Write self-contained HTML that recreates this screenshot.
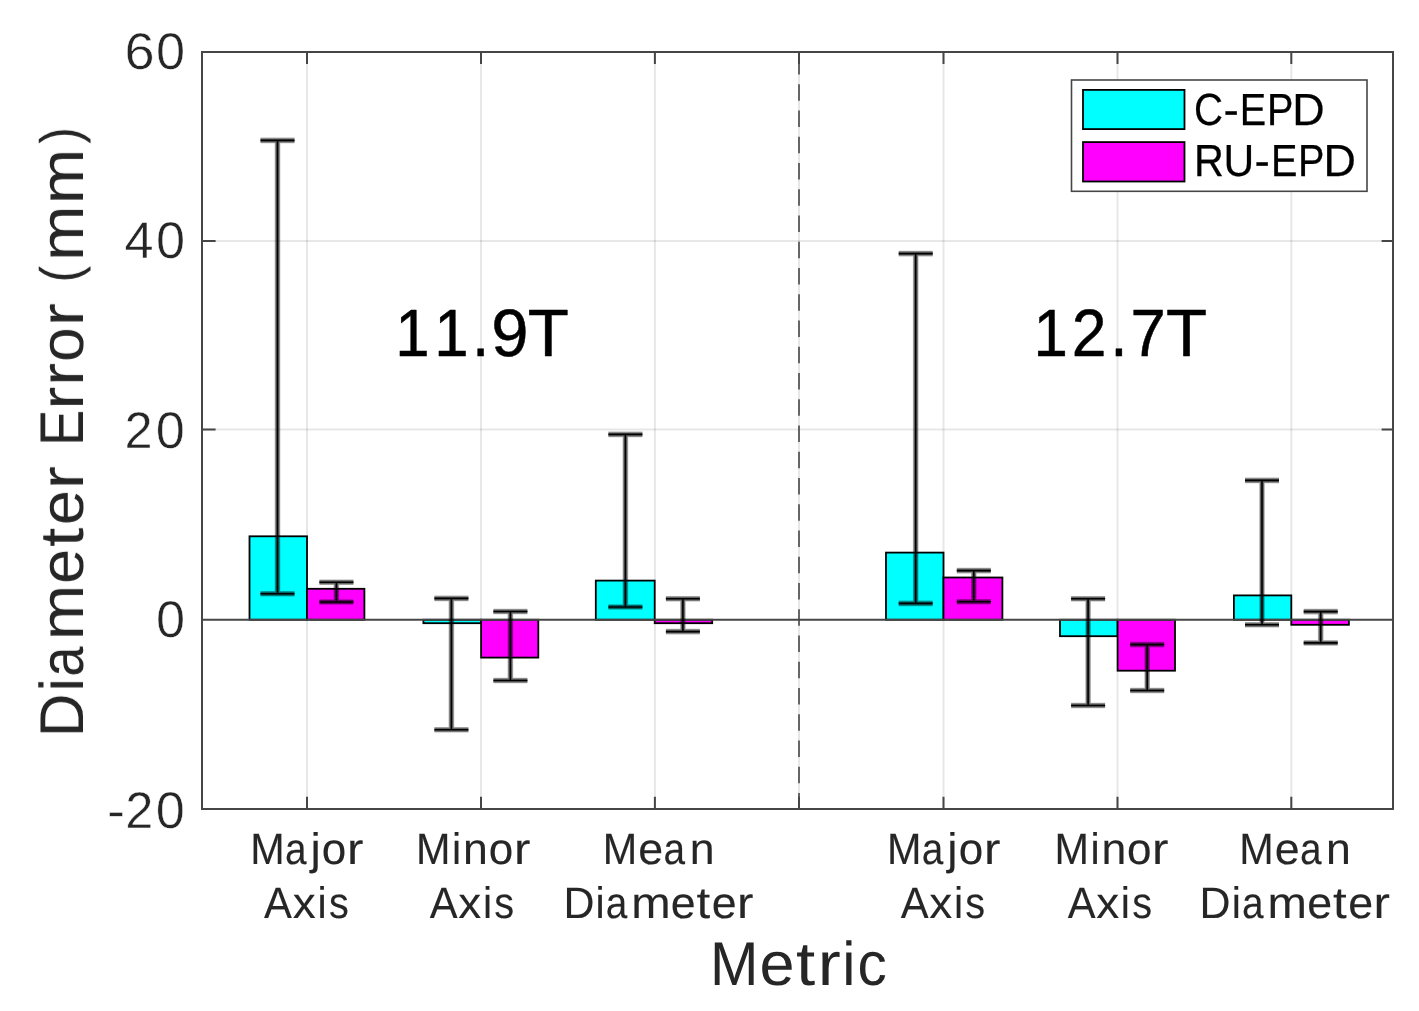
<!DOCTYPE html>
<html lang="en">
<head>
<meta charset="utf-8">
<title>Diameter Error by Metric</title>
<style>
html,body{margin:0;padding:0;background:#fff;}
body{width:1419px;height:1011px;overflow:hidden;}
svg{display:block;}
svg text{font-family:"Liberation Sans",sans-serif;white-space:pre;stroke-linejoin:round;text-rendering:geometricPrecision;}
</style>
</head>
<body>
<svg width="1419" height="1011" viewBox="0 0 1419 1011">
<defs><filter id="gray" x="0" y="0" width="1419" height="1011" filterUnits="userSpaceOnUse" color-interpolation-filters="sRGB"><feOffset dx="0" dy="0"/></filter></defs>
<g>
<rect x="0" y="0" width="1419" height="1011" fill="#fff"/>
<g stroke="#262626" stroke-opacity="0.11" stroke-width="2" fill="none">
<line x1="307.0" y1="52.0" x2="307.0" y2="809.0"/>
<line x1="481.0" y1="52.0" x2="481.0" y2="809.0"/>
<line x1="654.9" y1="52.0" x2="654.9" y2="809.0"/>
<line x1="799.0" y1="52.0" x2="799.0" y2="809.0"/>
<line x1="943.5" y1="52.0" x2="943.5" y2="809.0"/>
<line x1="1117.5" y1="52.0" x2="1117.5" y2="809.0"/>
<line x1="1291.3" y1="52.0" x2="1291.3" y2="809.0"/>
<line x1="202.0" y1="241.0" x2="1393.0" y2="241.0"/>
<line x1="202.0" y1="429.6" x2="1393.0" y2="429.6"/>
</g>
<g stroke="#000" stroke-width="1.8" stroke-linejoin="miter">
<rect x="249.5" y="536.30" width="57.50" height="83.45" fill="#00ffff"/>
<rect x="307.0" y="588.80" width="57.40" height="30.95" fill="#ff00ff"/>
<rect x="423.4" y="619.75" width="57.70" height="3.45" fill="#00ffff"/>
<rect x="481.1" y="619.75" width="57.20" height="37.85" fill="#ff00ff"/>
<rect x="595.8" y="580.60" width="58.90" height="39.15" fill="#00ffff"/>
<rect x="654.7" y="619.75" width="57.50" height="3.45" fill="#ff00ff"/>
<rect x="886.0" y="552.60" width="57.50" height="67.15" fill="#00ffff"/>
<rect x="943.5" y="577.50" width="58.90" height="42.25" fill="#ff00ff"/>
<rect x="1060.0" y="619.75" width="57.60" height="16.45" fill="#00ffff"/>
<rect x="1117.6" y="619.75" width="57.40" height="50.95" fill="#ff00ff"/>
<rect x="1233.9" y="595.40" width="57.40" height="24.35" fill="#00ffff"/>
<rect x="1291.3" y="619.75" width="57.60" height="5.05" fill="#ff00ff"/>
</g>
<line x1="202.0" y1="619.75" x2="1393.0" y2="619.75" stroke="#464646" stroke-width="2.1"/>
</g>
<g>
<g stroke="#000" stroke-width="5.6" stroke-opacity="0.3" fill="none">
<path d="M277.5 140.4V593.8M260.5 140.4H294.5M260.5 593.8H294.5"/>
<path d="M336.4 582.3V602.0M319.4 582.3H353.4M319.4 602.0H353.4"/>
<path d="M451.4 598.4V729.7M434.4 598.4H468.4M434.4 729.7H468.4"/>
<path d="M510.4 611.5V680.5M493.4 611.5H527.4M493.4 680.5H527.4"/>
<path d="M625.4 434.4V606.95M608.4 434.4H642.4M608.4 606.95H642.4"/>
<path d="M682.9 598.7V631.6M665.9 598.7H699.9M665.9 631.6H699.9"/>
<path d="M915.7 253.6V603.4M898.7 253.6H932.7M898.7 603.4H932.7"/>
<path d="M973.8 570.6V601.8M956.8 570.6H990.8M956.8 601.8H990.8"/>
<path d="M1088.1 598.7V705.5M1071.1 598.7H1105.1M1071.1 705.5H1105.1"/>
<path d="M1147.2 644.6V690.5M1130.2 644.6H1164.2M1130.2 690.5H1164.2"/>
<path d="M1262.0 480.4V624.8M1245.0 480.4H1279.0M1245.0 624.8H1279.0"/>
<path d="M1320.7 611.6V642.9M1303.7 611.6H1337.7M1303.7 642.9H1337.7"/>
</g>
<g stroke="#000" stroke-width="4" stroke-opacity="0.43" fill="none">
<path d="M277.5 140.4V593.8M260.5 140.4H294.5M260.5 593.8H294.5"/>
<path d="M336.4 582.3V602.0M319.4 582.3H353.4M319.4 602.0H353.4"/>
<path d="M451.4 598.4V729.7M434.4 598.4H468.4M434.4 729.7H468.4"/>
<path d="M510.4 611.5V680.5M493.4 611.5H527.4M493.4 680.5H527.4"/>
<path d="M625.4 434.4V606.95M608.4 434.4H642.4M608.4 606.95H642.4"/>
<path d="M682.9 598.7V631.6M665.9 598.7H699.9M665.9 631.6H699.9"/>
<path d="M915.7 253.6V603.4M898.7 253.6H932.7M898.7 603.4H932.7"/>
<path d="M973.8 570.6V601.8M956.8 570.6H990.8M956.8 601.8H990.8"/>
<path d="M1088.1 598.7V705.5M1071.1 598.7H1105.1M1071.1 705.5H1105.1"/>
<path d="M1147.2 644.6V690.5M1130.2 644.6H1164.2M1130.2 690.5H1164.2"/>
<path d="M1262.0 480.4V624.8M1245.0 480.4H1279.0M1245.0 624.8H1279.0"/>
<path d="M1320.7 611.6V642.9M1303.7 611.6H1337.7M1303.7 642.9H1337.7"/>
</g>
<g stroke="#000" stroke-width="1.6" stroke-opacity="1" fill="none">
<path d="M277.5 140.4V593.8M260.5 140.4H294.5M260.5 593.8H294.5"/>
<path d="M336.4 582.3V602.0M319.4 582.3H353.4M319.4 602.0H353.4"/>
<path d="M451.4 598.4V729.7M434.4 598.4H468.4M434.4 729.7H468.4"/>
<path d="M510.4 611.5V680.5M493.4 611.5H527.4M493.4 680.5H527.4"/>
<path d="M625.4 434.4V606.95M608.4 434.4H642.4M608.4 606.95H642.4"/>
<path d="M682.9 598.7V631.6M665.9 598.7H699.9M665.9 631.6H699.9"/>
<path d="M915.7 253.6V603.4M898.7 253.6H932.7M898.7 603.4H932.7"/>
<path d="M973.8 570.6V601.8M956.8 570.6H990.8M956.8 601.8H990.8"/>
<path d="M1088.1 598.7V705.5M1071.1 598.7H1105.1M1071.1 705.5H1105.1"/>
<path d="M1147.2 644.6V690.5M1130.2 644.6H1164.2M1130.2 690.5H1164.2"/>
<path d="M1262.0 480.4V624.8M1245.0 480.4H1279.0M1245.0 624.8H1279.0"/>
<path d="M1320.7 611.6V642.9M1303.7 611.6H1337.7M1303.7 642.9H1337.7"/>
</g>
</g>
<g>
<line x1="799" y1="809.6" x2="799" y2="52.0" stroke="#464646" stroke-width="1.6" stroke-dasharray="16.5 9.75"/>
<g stroke="#464646" stroke-width="2" fill="none">
<rect x="202.0" y="52.0" width="1191.0" height="757.0"/>
<path d="M307.0 52.0V64.0M307.0 809.0V796.7M481.0 52.0V64.0M481.0 809.0V796.7M654.9 52.0V64.0M654.9 809.0V796.7M799.0 52.0V64.0M799.0 809.0V796.7M943.5 52.0V64.0M943.5 809.0V796.7M1117.5 52.0V64.0M1117.5 809.0V796.7M1291.3 52.0V64.0M1291.3 809.0V796.7M202.0 241.0H215.6M1393.0 241.0H1381.6M202.0 429.6H215.6M1393.0 429.6H1381.6"/>
</g>
<rect x="1071.5" y="80" width="295.5" height="111.3" fill="#fff" stroke="#464646" stroke-width="1.6"/>
<rect x="1083" y="89.9" width="101.5" height="39.2" fill="#00ffff" stroke="#000" stroke-width="1.8"/>
<rect x="1083" y="142.1" width="101.5" height="39.4" fill="#ff00ff" stroke="#000" stroke-width="1.8"/>
</g>
<g filter="url(#gray)">
<text transform="translate(124.06 69.00)" font-size="51.45" fill="#262626" stroke="#fff" stroke-width="0.50"><tspan x="0.40" textLength="30.10" lengthAdjust="spacingAndGlyphs">6</tspan><tspan x="32.01" textLength="29.08" lengthAdjust="spacingAndGlyphs">0</tspan></text>
<text transform="translate(123.68 258.00)" font-size="51.45" fill="#262626" stroke="#fff" stroke-width="0.50"><tspan x="0.92" textLength="29.05" lengthAdjust="spacingAndGlyphs">4</tspan><tspan x="32.39" textLength="29.08" lengthAdjust="spacingAndGlyphs">0</tspan></text>
<text transform="translate(123.69 448.00)" font-size="51.45" fill="#262626" stroke="#fff" stroke-width="0.50"><tspan x="0.77" textLength="28.08" lengthAdjust="spacingAndGlyphs">2</tspan><tspan x="32.07" textLength="29.08" lengthAdjust="spacingAndGlyphs">0</tspan></text>
<text transform="translate(155.05 637.00)" font-size="51.45" fill="#262626" stroke="#fff" stroke-width="0.50"><tspan x="0.91" textLength="29.08" lengthAdjust="spacingAndGlyphs">0</tspan></text>
<text transform="translate(107.18 828.00)" font-size="51.45" fill="#262626" stroke="#fff" stroke-width="0.50"><tspan x="-0.30" textLength="18.13" lengthAdjust="spacingAndGlyphs">-</tspan><tspan x="17.99" textLength="28.08" lengthAdjust="spacingAndGlyphs">2</tspan><tspan x="48.49" textLength="29.08" lengthAdjust="spacingAndGlyphs">0</tspan></text>
<text transform="translate(249.56 864.00)" font-size="44.04" fill="#262626" stroke="#262626" stroke-width="0.12"><tspan x="0.76" textLength="34.46" lengthAdjust="spacingAndGlyphs">M</tspan><tspan x="35.47" textLength="21.55" lengthAdjust="spacingAndGlyphs">a</tspan><tspan x="60.87" textLength="10.29" lengthAdjust="spacingAndGlyphs">j</tspan><tspan x="72.31" textLength="24.49" lengthAdjust="spacingAndGlyphs">o</tspan><tspan x="97.43" textLength="16.43" lengthAdjust="spacingAndGlyphs">r</tspan></text>
<text transform="translate(263.82 918.00)" font-size="44.04" fill="#262626" stroke="#262626" stroke-width="0.12"><tspan x="0.30" textLength="27.88" lengthAdjust="spacingAndGlyphs">A</tspan><tspan x="28.86" textLength="22.98" lengthAdjust="spacingAndGlyphs">x</tspan><tspan x="53.66" textLength="9.16" lengthAdjust="spacingAndGlyphs">i</tspan><tspan x="65.07" textLength="19.83" lengthAdjust="spacingAndGlyphs">s</tspan></text>
<text transform="translate(415.36 864.00)" font-size="44.04" fill="#262626" stroke="#262626" stroke-width="0.12"><tspan x="0.76" textLength="34.46" lengthAdjust="spacingAndGlyphs">M</tspan><tspan x="36.68" textLength="9.16" lengthAdjust="spacingAndGlyphs">i</tspan><tspan x="47.75" textLength="24.83" lengthAdjust="spacingAndGlyphs">n</tspan><tspan x="73.43" textLength="24.49" lengthAdjust="spacingAndGlyphs">o</tspan><tspan x="98.63" textLength="16.43" lengthAdjust="spacingAndGlyphs">r</tspan></text>
<text transform="translate(429.42 918.00)" font-size="44.04" fill="#262626" stroke="#262626" stroke-width="0.12"><tspan x="0.30" textLength="27.88" lengthAdjust="spacingAndGlyphs">A</tspan><tspan x="28.77" textLength="22.98" lengthAdjust="spacingAndGlyphs">x</tspan><tspan x="53.50" textLength="9.16" lengthAdjust="spacingAndGlyphs">i</tspan><tspan x="64.87" textLength="19.83" lengthAdjust="spacingAndGlyphs">s</tspan></text>
<text transform="translate(602.06 864.00)" font-size="44.04" fill="#262626" stroke="#262626" stroke-width="0.12"><tspan x="0.76" textLength="34.46" lengthAdjust="spacingAndGlyphs">M</tspan><tspan x="36.24" textLength="24.89" lengthAdjust="spacingAndGlyphs">e</tspan><tspan x="61.44" textLength="21.55" lengthAdjust="spacingAndGlyphs">a</tspan><tspan x="87.60" textLength="24.83" lengthAdjust="spacingAndGlyphs">n</tspan></text>
<text transform="translate(562.96 918.00)" font-size="44.04" fill="#262626" stroke="#262626" stroke-width="0.12"><tspan x="0.63" textLength="30.99" lengthAdjust="spacingAndGlyphs">D</tspan><tspan x="32.60" textLength="9.16" lengthAdjust="spacingAndGlyphs">i</tspan><tspan x="42.83" textLength="21.55" lengthAdjust="spacingAndGlyphs">a</tspan><tspan x="68.36" textLength="39.40" lengthAdjust="spacingAndGlyphs">m</tspan><tspan x="107.81" textLength="24.89" lengthAdjust="spacingAndGlyphs">e</tspan><tspan x="133.60" textLength="13.70" lengthAdjust="spacingAndGlyphs">t</tspan><tspan x="148.85" textLength="24.89" lengthAdjust="spacingAndGlyphs">e</tspan><tspan x="174.03" textLength="16.43" lengthAdjust="spacingAndGlyphs">r</tspan></text>
<text transform="translate(886.26 864.00)" font-size="44.04" fill="#262626" stroke="#262626" stroke-width="0.12"><tspan x="0.76" textLength="34.46" lengthAdjust="spacingAndGlyphs">M</tspan><tspan x="35.54" textLength="21.55" lengthAdjust="spacingAndGlyphs">a</tspan><tspan x="60.99" textLength="10.29" lengthAdjust="spacingAndGlyphs">j</tspan><tspan x="72.46" textLength="24.49" lengthAdjust="spacingAndGlyphs">o</tspan><tspan x="97.63" textLength="16.43" lengthAdjust="spacingAndGlyphs">r</tspan></text>
<text transform="translate(900.42 918.00)" font-size="44.04" fill="#262626" stroke="#262626" stroke-width="0.12"><tspan x="0.30" textLength="27.88" lengthAdjust="spacingAndGlyphs">A</tspan><tspan x="28.77" textLength="22.98" lengthAdjust="spacingAndGlyphs">x</tspan><tspan x="53.50" textLength="9.16" lengthAdjust="spacingAndGlyphs">i</tspan><tspan x="64.87" textLength="19.83" lengthAdjust="spacingAndGlyphs">s</tspan></text>
<text transform="translate(1053.86 864.00)" font-size="44.04" fill="#262626" stroke="#262626" stroke-width="0.12"><tspan x="0.76" textLength="34.46" lengthAdjust="spacingAndGlyphs">M</tspan><tspan x="36.54" textLength="9.16" lengthAdjust="spacingAndGlyphs">i</tspan><tspan x="47.56" textLength="24.83" lengthAdjust="spacingAndGlyphs">n</tspan><tspan x="73.13" textLength="24.49" lengthAdjust="spacingAndGlyphs">o</tspan><tspan x="98.23" textLength="16.43" lengthAdjust="spacingAndGlyphs">r</tspan></text>
<text transform="translate(1067.52 918.00)" font-size="44.04" fill="#262626" stroke="#262626" stroke-width="0.12"><tspan x="0.30" textLength="27.88" lengthAdjust="spacingAndGlyphs">A</tspan><tspan x="28.68" textLength="22.98" lengthAdjust="spacingAndGlyphs">x</tspan><tspan x="53.33" textLength="9.16" lengthAdjust="spacingAndGlyphs">i</tspan><tspan x="64.67" textLength="19.83" lengthAdjust="spacingAndGlyphs">s</tspan></text>
<text transform="translate(1238.56 864.00)" font-size="44.04" fill="#262626" stroke="#262626" stroke-width="0.12"><tspan x="0.76" textLength="34.46" lengthAdjust="spacingAndGlyphs">M</tspan><tspan x="36.20" textLength="24.89" lengthAdjust="spacingAndGlyphs">e</tspan><tspan x="61.37" textLength="21.55" lengthAdjust="spacingAndGlyphs">a</tspan><tspan x="87.50" textLength="24.83" lengthAdjust="spacingAndGlyphs">n</tspan></text>
<text transform="translate(1198.96 918.00)" font-size="44.04" fill="#262626" stroke="#262626" stroke-width="0.12"><tspan x="0.63" textLength="30.99" lengthAdjust="spacingAndGlyphs">D</tspan><tspan x="32.71" textLength="9.16" lengthAdjust="spacingAndGlyphs">i</tspan><tspan x="42.98" textLength="21.55" lengthAdjust="spacingAndGlyphs">a</tspan><tspan x="68.60" textLength="39.40" lengthAdjust="spacingAndGlyphs">m</tspan><tspan x="108.18" textLength="24.89" lengthAdjust="spacingAndGlyphs">e</tspan><tspan x="134.06" textLength="13.70" lengthAdjust="spacingAndGlyphs">t</tspan><tspan x="149.36" textLength="24.89" lengthAdjust="spacingAndGlyphs">e</tspan><tspan x="174.63" textLength="16.43" lengthAdjust="spacingAndGlyphs">r</tspan></text>
<text transform="translate(709.12 985.00)" font-size="61.63" fill="#262626"><tspan x="0.95" textLength="48.45" lengthAdjust="spacingAndGlyphs">M</tspan><tspan x="50.36" textLength="35.04" lengthAdjust="spacingAndGlyphs">e</tspan><tspan x="87.01" textLength="19.18" lengthAdjust="spacingAndGlyphs">t</tspan><tspan x="108.70" textLength="22.99" lengthAdjust="spacingAndGlyphs">r</tspan><tspan x="133.24" textLength="13.25" lengthAdjust="spacingAndGlyphs">i</tspan><tspan x="148.50" textLength="29.27" lengthAdjust="spacingAndGlyphs">c</tspan></text>
<text transform="translate(83.00 737.88) rotate(-90)" font-size="61.63" fill="#262626"><tspan x="0.77" textLength="43.59" lengthAdjust="spacingAndGlyphs">D</tspan><tspan x="46.39" textLength="13.25" lengthAdjust="spacingAndGlyphs">i</tspan><tspan x="61.36" textLength="30.16" lengthAdjust="spacingAndGlyphs">a</tspan><tspan x="97.67" textLength="55.36" lengthAdjust="spacingAndGlyphs">m</tspan><tspan x="154.10" textLength="35.04" lengthAdjust="spacingAndGlyphs">e</tspan><tspan x="191.08" textLength="19.18" lengthAdjust="spacingAndGlyphs">t</tspan><tspan x="212.81" textLength="35.04" lengthAdjust="spacingAndGlyphs">e</tspan><tspan x="248.83" textLength="22.99" lengthAdjust="spacingAndGlyphs">r</tspan><tspan x="272.08"> </tspan><tspan x="291.88" textLength="36.17" lengthAdjust="spacingAndGlyphs">E</tspan><tspan x="328.15" textLength="22.99" lengthAdjust="spacingAndGlyphs">r</tspan><tspan x="352.11" textLength="22.99" lengthAdjust="spacingAndGlyphs">r</tspan><tspan x="375.97" textLength="34.49" lengthAdjust="spacingAndGlyphs">o</tspan><tspan x="411.72" textLength="22.99" lengthAdjust="spacingAndGlyphs">r</tspan><tspan x="434.97"> </tspan><tspan x="455.45" dy="-3.84" font-size="55.60" textLength="16.42" lengthAdjust="spacingAndGlyphs">(</tspan><tspan x="477.12" dy="3.84" textLength="55.36" lengthAdjust="spacingAndGlyphs">m</tspan><tspan x="533.89" textLength="55.36" lengthAdjust="spacingAndGlyphs">m</tspan><tspan x="594.16" dy="-3.84" font-size="55.60" textLength="16.42" lengthAdjust="spacingAndGlyphs">)</tspan></text>
<text transform="translate(392.88 356.00)" font-size="66.86" fill="#000" stroke="#000" stroke-width="0.50"><tspan x="2.41" textLength="34.35" lengthAdjust="spacingAndGlyphs">1</tspan><tspan x="41.36" textLength="34.35" lengthAdjust="spacingAndGlyphs">1</tspan><tspan x="79.14" textLength="17.33" lengthAdjust="spacingAndGlyphs">.</tspan><tspan x="98.40" textLength="37.24" lengthAdjust="spacingAndGlyphs">9</tspan><tspan x="134.86" textLength="41.10" lengthAdjust="spacingAndGlyphs">T</tspan></text>
<text transform="translate(1031.08 356.00)" font-size="66.86" fill="#000" stroke="#000" stroke-width="0.50"><tspan x="2.41" textLength="34.35" lengthAdjust="spacingAndGlyphs">1</tspan><tspan x="40.64" textLength="34.71" lengthAdjust="spacingAndGlyphs">2</tspan><tspan x="79.14" textLength="17.33" lengthAdjust="spacingAndGlyphs">.</tspan><tspan x="99.49" textLength="35.23" lengthAdjust="spacingAndGlyphs">7</tspan><tspan x="134.86" textLength="41.10" lengthAdjust="spacingAndGlyphs">T</tspan></text>
<text transform="translate(1193.39 125.00)" font-size="45.06" fill="#000" stroke="#000" stroke-width="0.25"><tspan x="0.54" textLength="29.04" lengthAdjust="spacingAndGlyphs">C</tspan><tspan x="30.09" textLength="15.36" lengthAdjust="spacingAndGlyphs">-</tspan><tspan x="46.48" textLength="26.45" lengthAdjust="spacingAndGlyphs">E</tspan><tspan x="73.52" textLength="26.45" lengthAdjust="spacingAndGlyphs">P</tspan><tspan x="98.89" textLength="32.38" lengthAdjust="spacingAndGlyphs">D</tspan></text>
<text transform="translate(1192.96 176.00)" font-size="45.06" fill="#000" stroke="#000" stroke-width="0.25"><tspan x="1.02" textLength="29.91" lengthAdjust="spacingAndGlyphs">R</tspan><tspan x="30.48" textLength="30.73" lengthAdjust="spacingAndGlyphs">U</tspan><tspan x="61.48" textLength="15.36" lengthAdjust="spacingAndGlyphs">-</tspan><tspan x="77.93" textLength="26.45" lengthAdjust="spacingAndGlyphs">E</tspan><tspan x="105.06" textLength="26.45" lengthAdjust="spacingAndGlyphs">P</tspan><tspan x="130.53" textLength="32.38" lengthAdjust="spacingAndGlyphs">D</tspan></text>
</g>
</svg>
</body>
</html>
